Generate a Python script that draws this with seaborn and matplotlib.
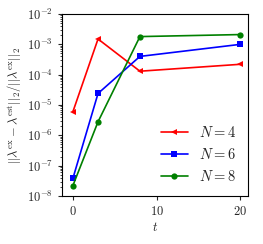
import numpy as np
import pandas as pd
import matplotlib
matplotlib.use("Agg")
import matplotlib.pyplot as plt
import seaborn as sns
from matplotlib.ticker import LogLocator, FuncFormatter, NullFormatter

t = [0, 3, 8, 20]
err_n4 = [6e-6, 1.5e-3, 1.3e-4, 2.2e-4]
err_n6 = [3.8e-8, 2.4e-5, 4.0e-4, 1.0e-3]
err_n8 = [2.2e-8, 2.8e-6, 1.8e-3, 2.1e-3]
labels = [r"$N=4$", r"$N=6$", r"$N=8$"]
colors = ["red", "blue", "green"]
markers = ["<", "s", "o"]

rows = []
for lab, vals in zip(labels, [err_n4, err_n6, err_n8]):
    for ti, v in zip(t, vals):
        rows.append({"t": ti, "err": v, "N": lab})
df = pd.DataFrame(rows)

sns.set_style("ticks")
plt.rcParams["mathtext.fontset"] = "cm"
plt.rcParams["font.family"] = ["DejaVu Serif"]

fig = plt.figure(figsize=(2.63, 2.44), dpi=100)
ax = fig.add_axes([62/263, 1 - 196/244, (248-62)/263, (196-14)/244])
sns.lineplot(data=df, x="t", y="err", hue="N", style="N",
             palette=dict(zip(labels, colors)),
             markers=dict(zip(labels, markers)), dashes=False,
             markersize=4.5, markeredgewidth=0, linewidth=1.2, ax=ax)
ax.set_yscale("log")
ax.set_ylim(1e-8, 1e-2)
ax.set_xlim(-1.3, 20.9)
ax.set_xticks([0, 10, 20])
ax.xaxis.set_major_formatter(FuncFormatter(lambda v, p: r"$%d$" % v))
ax.yaxis.set_major_locator(LogLocator(base=10, numticks=20))
ax.yaxis.set_major_formatter(FuncFormatter(lambda v, p: r"$10^{%d}$" % round(np.log10(v))))
ax.yaxis.set_minor_locator(LogLocator(base=10, subs=np.arange(2, 10), numticks=20))
ax.yaxis.set_minor_formatter(NullFormatter())
ax.tick_params(labelsize=9, length=3, width=0.8, direction="out")
ax.tick_params(which="minor", length=1.5, width=0.6)
for s in ax.spines.values():
    s.set_linewidth(0.8)
    s.set_color("black")
ax.set_xlabel(r"$t$", fontsize=9, labelpad=2)
ax.set_ylabel(r"$||\lambda^{\rm ex}-\lambda^{\rm est}||_2/||\lambda^{\rm ex}||_2$", fontsize=9, labelpad=2)
ax.legend(loc="lower right", frameon=False, fontsize=10.5, handlelength=1.8,
          borderaxespad=0.4, labelspacing=0.5, handletextpad=0.8)
fig.savefig("out.png", dpi=100)
